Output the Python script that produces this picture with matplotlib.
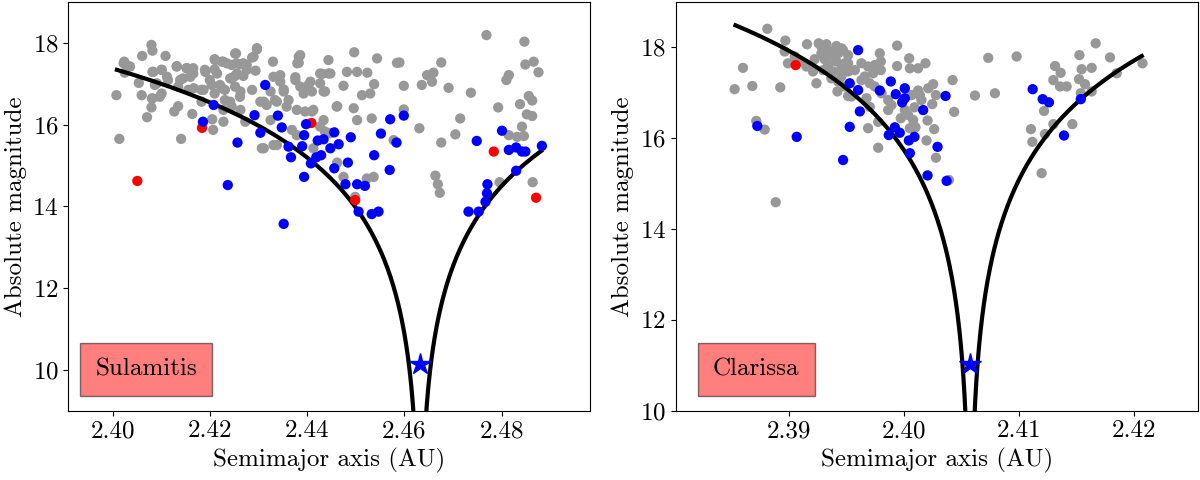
import numpy as np
import matplotlib
matplotlib.use("Agg")
import matplotlib.pyplot as plt

plt.rcParams['font.family'] = ['cmr10', 'DejaVu Serif']
plt.rcParams['mathtext.fontset'] = 'cm'
plt.rcParams['axes.formatter.use_mathtext'] = True
plt.rcParams['font.size'] = 18

# ---------------- Sulamitis (left) ----------------
sul_gray_a = [2.4080, 2.4082, 2.4061, 2.4109, 2.4024, 2.4036, 2.4025, 2.4054, 2.4008, 2.4060,
              2.4082, 2.4101, 2.4114, 2.4087, 2.4082, 2.4097, 2.4080, 2.4071, 2.4014, 2.4141,
              2.4127, 2.4135, 2.4132, 2.4152, 2.4166, 2.4145, 2.4166, 2.4135, 2.4156, 2.4183,
              2.4190, 2.4210, 2.4210, 2.4228, 2.4245, 2.4252, 2.4255, 2.4200, 2.4221, 2.4231,
              2.4245, 2.4210, 2.4231, 2.4183, 2.4164, 2.4205, 2.4228, 2.4207, 2.4245, 2.4252,
              2.4297, 2.4254, 2.4287, 2.4330, 2.4262, 2.4276, 2.4294, 2.4252, 2.4269, 2.4386,
              2.4383, 2.4444, 2.4497, 2.4544, 2.4585, 2.4345, 2.4376, 2.4407, 2.4431, 2.4444,
              2.4482, 2.4503, 2.4524, 2.4538, 2.4475, 2.4393, 2.4410, 2.4437, 2.4287, 2.4325,
              2.4352, 2.4262, 2.4311, 2.4338, 2.4362, 2.4379, 2.4396, 2.4413, 2.4462, 2.4496,
              2.4513, 2.4530, 2.4503, 2.4533, 2.4427, 2.4369, 2.4379, 2.4311, 2.4338, 2.4273,
              2.4325, 2.4413, 2.4462, 2.4475, 2.4523, 2.4537, 2.4499, 2.4578, 2.4448,
              2.4769, 2.4847, 2.4590, 2.4676, 2.4647, 2.4660, 2.4657, 2.4636, 2.4599, 2.4691,
              2.4737, 2.4849, 2.4866, 2.4876, 2.4815, 2.4810, 2.4856, 2.4863, 2.4838, 2.4793,
              2.4852, 2.4863, 2.4715, 2.4631, 2.4705, 2.4676, 2.4842, 2.4815, 2.4832, 2.4846,
              2.4664, 2.4669, 2.4673, 2.4796, 2.4864, 2.4599,
              2.4023, 2.4033, 2.4084, 2.4101, 2.4112, 2.4091, 2.4081, 2.4101, 2.4132, 2.4153,
              2.4160, 2.4139, 2.4167, 2.4187, 2.4191, 2.4211, 2.4225, 2.4235, 2.4215, 2.4204,
              2.4225, 2.4242, 2.4256, 2.4269, 2.4276, 2.4290, 2.4297, 2.4263, 2.4242, 2.4228,
              2.4263, 2.4304, 2.4317, 2.4331, 2.4345, 2.4352, 2.4334, 2.4358, 2.4376, 2.4386,
              2.4393, 2.4403, 2.4427, 2.4434, 2.4427, 2.4448, 2.4383, 2.4380, 2.4410, 2.4434,
              2.4461, 2.4437, 2.4331, 2.4307]
sul_gray_H = [17.95, 17.81, 17.68, 17.68, 17.54, 17.42, 17.27, 17.02, 16.72, 16.72,
              17.29, 17.34, 17.09, 16.97, 16.64, 16.68, 16.42, 16.18, 15.65, 15.65,
              16.32, 16.45, 17.42, 17.38, 17.38, 17.13, 17.25, 16.93, 16.85, 16.85,
              17.34, 17.60, 17.35, 17.54, 17.46, 17.74, 17.50, 17.09, 16.97, 16.85,
              17.13, 16.76, 16.60, 16.56, 16.26, 16.13, 16.07, 15.87, 16.44, 16.93,
              17.84, 17.74, 17.64, 17.54, 17.48, 17.46, 17.32, 17.19, 17.19, 17.70,
              17.51, 17.58, 17.77, 17.62, 17.51, 17.21, 17.16, 17.05, 17.24, 17.25,
              17.29, 17.29, 17.27, 16.99, 16.95, 16.85, 16.81, 16.81, 16.85, 16.81,
              16.86, 16.68, 16.56, 16.56, 16.60, 16.36, 16.32, 16.36, 16.45, 16.40,
              16.72, 16.76, 16.11, 16.15, 15.95, 15.87, 15.74, 15.42, 15.50, 16.07,
              16.11, 15.42, 15.07, 14.72, 14.68, 14.72, 14.23, 15.62, 15.79,
              18.19, 18.03, 17.52, 17.52, 17.21, 17.27, 17.05, 16.97, 16.95, 16.90,
              16.78, 17.47, 17.54, 17.28, 17.21, 17.09, 16.70, 16.59, 16.50, 16.42,
              16.25, 16.21, 16.15, 15.91, 15.76, 15.56, 15.95, 15.74, 15.70, 15.72,
              14.75, 14.54, 14.33, 14.59, 14.59, 16.37,
              17.50, 17.43, 17.29, 17.34, 17.17, 17.01, 16.64, 16.76, 17.43, 17.38,
              17.17, 17.09, 16.89, 16.85, 17.29, 17.58, 17.54, 17.50, 17.25, 16.97,
              16.89, 17.13, 17.25, 17.50, 17.34, 17.66, 17.87, 16.81, 16.56, 16.36,
              16.36, 16.56, 16.48, 17.17, 17.05, 16.81, 16.60, 16.44, 17.09, 16.93,
              16.76, 16.97, 17.01, 16.81, 17.25, 17.25, 17.66, 17.50, 16.32, 16.11,
              16.44, 15.83, 15.50, 15.42]

sul_blue_a = [2.4208, 2.4186, 2.4257, 2.4237,
              2.4314, 2.4292, 2.4340, 2.4348, 2.4304, 2.4398, 2.4394, 2.4390, 2.4362, 2.4367,
              2.4422, 2.4434, 2.4448, 2.4465, 2.4456, 2.4490, 2.4429, 2.4419, 2.4408, 2.4394,
              2.4456, 2.4484, 2.4479, 2.4503, 2.4519, 2.4571, 2.4552, 2.4584, 2.4538, 2.4570,
              2.4506, 2.4533, 2.4547, 2.4352,
              2.4599, 2.4749, 2.4801, 2.4815, 2.4830, 2.4842, 2.4849, 2.4883, 2.4830, 2.4771,
              2.4770, 2.4767, 2.4753, 2.4732]
sul_blue_H = [16.48, 16.07, 15.56, 14.52,
              16.97, 16.23, 16.22, 15.93, 15.80, 16.01, 15.74, 15.47, 15.46, 15.20,
              15.61, 15.64, 15.42, 15.52, 15.81, 15.69, 15.25, 15.20, 15.05, 14.72,
              14.93, 15.07, 14.54, 14.54, 14.50, 16.13, 15.78, 15.56, 15.25, 14.89,
              13.87, 13.81, 13.87, 13.57,
              16.22, 15.60, 15.85, 15.38, 15.44, 15.34, 15.34, 15.48, 14.87, 14.54,
              14.32, 14.11, 13.87, 13.87]

sul_red_a = [2.4184, 2.4051, 2.4409, 2.4499, 2.4784, 2.4871]
sul_red_H = [15.92, 14.62, 16.04, 14.15, 15.34, 14.21]

sul_center = (2.4632, 10.15)
sul_ac, sul_C, sul_amin, sul_amax = 2.4632, 2.12e-5, 2.4005, 2.4885

# ---------------- Clarissa (right) ----------------
cla_gray_a = [2.38808, 2.38965, 2.39154, 2.39256, 2.39323, 2.39410, 2.39468, 2.38959, 2.39279, 2.39221,
              2.39337, 2.39410, 2.39483, 2.38596, 2.38988, 2.39148, 2.39206, 2.39381, 2.39454, 2.38523,
              2.38677, 2.38921, 2.39236, 2.39419, 2.39512, 2.38712, 2.38785, 2.38881,
              2.39454, 2.39788, 2.39797, 2.39797, 2.39939, 2.40044, 2.39939, 2.40050, 2.40122, 2.40186,
              2.39512, 2.39570, 2.39657, 2.39701, 2.39730, 2.39744, 2.39541, 2.39672, 2.39701, 2.39861,
              2.39861, 2.40064, 2.40137, 2.40122, 2.40253, 2.40422, 2.40277, 2.40245, 2.40090, 2.40035,
              2.39971, 2.40436, 2.40204, 2.40050, 2.40099, 2.40262, 2.39686, 2.39774, 2.39774, 2.40195,
              2.40277, 2.40390, 2.40617, 2.40791, 2.40733, 2.40980, 2.41315, 2.41364, 2.41300, 2.41358,
              2.41416, 2.41527, 2.41547, 2.41634, 2.41669, 2.41794, 2.41852, 2.42077, 2.41524, 2.41576,
              2.41634, 2.41539, 2.41219, 2.41105, 2.41117, 2.41227, 2.41300, 2.41466, 2.41198,
              2.39279, 2.39352, 2.39425, 2.39512, 2.39308, 2.39381, 2.39454, 2.39512, 2.39294, 2.39425,
              2.39483, 2.39366, 2.39105, 2.39047,
              2.39483, 2.39628, 2.39686, 2.39744, 2.39628, 2.39803, 2.39890, 2.40006, 2.40079, 2.40151,
              2.40210]
cla_gray_H = [18.41, 18.15, 18.07, 18.09, 18.07, 18.03, 17.94, 17.91, 17.87, 17.74,
              17.61, 17.69, 17.65, 17.55, 17.65, 17.58, 17.47, 17.47, 17.36, 17.08,
              17.15, 17.12, 17.21, 17.03, 16.93, 16.38, 16.19, 14.59,
              17.98, 17.87, 17.69, 17.50, 18.04, 17.76, 17.59, 17.54, 17.54, 17.65,
              17.65, 17.50, 17.36, 17.21, 17.43, 17.14, 16.92, 16.88, 16.69, 16.84,
              16.62, 16.95, 16.95, 17.05, 17.19, 17.28, 16.95, 16.75, 16.68, 16.51,
              16.44, 16.58, 16.39, 16.22, 16.24, 16.20, 16.22, 16.36, 15.79, 15.95,
              15.57, 15.08, 16.94, 16.99, 17.77, 17.80, 17.59, 17.44, 17.28, 17.14,
              17.14, 17.83, 17.52, 17.55, 18.09, 17.78, 17.43, 17.65, 17.30, 17.19,
              17.03, 16.99, 16.60, 16.20, 15.92, 16.09, 16.31, 16.31, 15.23,
              18.02, 17.91, 17.87, 17.83, 17.74, 17.80, 17.54, 17.47, 17.50, 17.25,
              17.14, 17.32, 17.69, 17.80,
              17.50, 17.65, 17.58, 17.61, 17.28, 16.99, 16.73, 16.62, 16.40, 16.84,
              17.10]

cla_blue_a = [2.38721, 2.39064, 2.39468, 2.39526, 2.39526,
              2.39599, 2.39599, 2.39614, 2.39884, 2.39788, 2.40006, 2.39927, 2.40006, 2.39983,
              2.40361, 2.40166, 2.39919, 2.39962, 2.39866, 2.40090, 2.40041, 2.40291, 2.40050,
              2.40204, 2.40370, 2.41120, 2.41207, 2.41262, 2.41393, 2.41539]
cla_blue_H = [16.27, 16.03, 15.52, 16.25, 17.21,
              17.94, 17.06, 16.59, 17.25, 17.05, 17.10, 16.97, 16.88, 16.79,
              16.93, 16.62, 16.24, 16.12, 16.07, 16.03, 15.95, 15.81, 15.67,
              15.18, 15.06, 17.08, 16.86, 16.79, 16.06, 16.86]

cla_red_a = [2.39055]
cla_red_H = [17.61]

cla_center = (2.40574, 11.02)
cla_ac, cla_C, cla_amin, cla_amax = 2.40574, 4.1e-6, 2.38514, 2.42086

GRAY = '#989898'

fig = plt.figure(figsize=(12, 4.8), dpi=100)
ax1 = fig.add_axes([0.0569, 0.1446, 0.4348, 0.8512])
ax2 = fig.add_axes([0.5631, 0.1446, 0.4352, 0.8512])


def vshape(ax, ac, C, amin, amax):
    left = ac - np.geomspace(ac - amin, 1e-7, 400)
    right = ac + np.geomspace(1e-7, amax - ac, 400)
    for a in (left, right):
        H = 5 * np.log10(np.abs(a - ac) / C)
        ax.plot(a, H, color='black', lw=3, zorder=2, solid_capstyle='butt')


def panel(ax, ga, gH, ba, bH, ra, rH, center, ac, C, amin, amax, name, xlim, ylim, xticks, tx):
    ax.scatter(ga, gH, s=55, color=GRAY, edgecolors='none', zorder=1)
    vshape(ax, ac, C, amin, amax)
    ax.scatter(ra, rH, s=55, color='red', edgecolors='none', zorder=3)
    ax.scatter(ba, bH, s=55, color='blue', edgecolors='none', zorder=4)
    ax.plot([center[0]], [center[1]], marker='*', ms=16, color='blue', ls='none', zorder=5)
    ax.set_xlim(*xlim)
    ax.set_ylim(*ylim)
    ax.set_xticks(xticks)
    ax.set_xticklabels(['%.2f' % t for t in xticks])
    ax.set_yticks([10, 12, 14, 16, 18])
    ax.set_xlabel('Semimajor axis (AU)')
    ax.set_ylabel('Absolute magnitude')
    ax.text(tx, 0.10, name, transform=ax.transAxes, ha='center', va='center',
            fontsize=18, zorder=6,
            bbox=dict(facecolor='red', alpha=0.5, edgecolor='black', pad=11))


panel(ax1, sul_gray_a, sul_gray_H, sul_blue_a, sul_blue_H, sul_red_a, sul_red_H,
      sul_center, sul_ac, sul_C, sul_amin, sul_amax, 'Sulamitis',
      (2.3909, 2.4982), (9, 19), [2.40, 2.42, 2.44, 2.46, 2.48], 0.149)
panel(ax2, cla_gray_a, cla_gray_H, cla_blue_a, cla_blue_H, cla_red_a, cla_red_H,
      cla_center, cla_ac, cla_C, cla_amin, cla_amax, 'Clarissa',
      (2.3801, 2.4256), (10, 19), [2.39, 2.40, 2.41, 2.42], 0.154)

fig.savefig('out.png', dpi=100)
